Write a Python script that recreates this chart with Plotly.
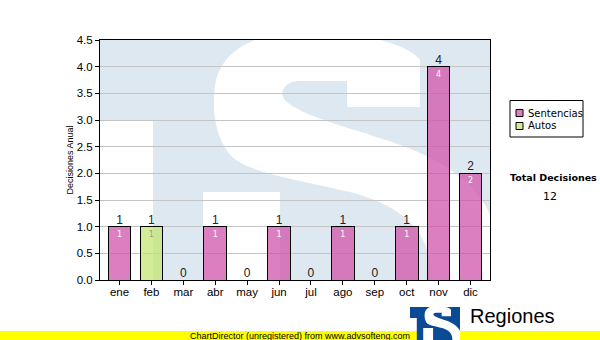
import base64
import plotly.graph_objects as go

# ---------------- data ----------------
months = ["ene", "feb", "mar", "abr", "may", "jun", "jul", "ago", "sep", "oct", "nov", "dic"]
sentencias = [1, 0, 0, 1, 0, 1, 0, 1, 0, 1, 4, 2]
autos = [0, 1, 0, 0, 0, 0, 0, 0, 0, 0, 0, 0]
series_names = ["Sentencias", "Autos"]
series_colors = ["rgba(206,78,168,0.72)", "rgba(196,228,108,0.72)"]
y_title = "Decisiones Anual"
total_title = "Total Decisiones"
footer_text = "ChartDirector (unregistered) from www.advsofteng.com"
brand_text = "Regiones"

totals = [s + a for s, a in zip(sentencias, autos)]
grand_total = sum(totals)

# ---------------- geometry of the canvas ----------------
W, H = 600, 340
L, R, T, B = 100, 110, 40, 60
PW, PH = W - L - R, H - T - B


def px(xabs):
    return (xabs - L) / PW


def py(yabs):
    return (H - B - yabs) / PH


def logo_svg(bg, fg, w, h):
    s_path = ("M 320,67 L 247,67 L 247,41 L 200,41 C 185,41 178,52 185,60 "
              "C 200,78 280,95 313,110 C 350,125 395,155 395,200 L 395,290 L 103,290 "
              "L 103,152 L 180,152 L 180,260 L 330,260 L 330,230 "
              "C 330,190 300,165 250,152 C 200,140 140,132 128,112 "
              "C 112,90 112,60 116,40 C 125,5 165,-8 200,-8 C 260,-10 310,5 320,20 Z")
    svg = (f'<svg xmlns="http://www.w3.org/2000/svg" width="{w}" height="{h}" '
           f'viewBox="0 0 390 240" preserveAspectRatio="none">'
           f'<path d="M0,0 H390 V240 H53 V80 H0 Z" fill="{bg}"/>'
           f'<path d="{s_path}" fill="{fg}"/></svg>')
    return "data:image/svg+xml;base64," + base64.b64encode(svg.encode()).decode()


fig = go.Figure()

fig.add_trace(go.Bar(
    x=months, y=[v if v else None for v in sentencias], name=series_names[0],
    marker=dict(color=series_colors[0], line=dict(color="black", width=1)),
    text=[str(v) if v else "" for v in sentencias],
    textposition="inside", insidetextanchor="end", textangle=0,
    insidetextfont=dict(family="DejaVu Sans", size=8, color="white"),
    showlegend=False,
))
fig.add_trace(go.Bar(
    x=months, y=[v if v else None for v in autos], name=series_names[1],
    marker=dict(color=series_colors[1], line=dict(color="black", width=1)),
    text=[str(v) if v else "" for v in autos],
    textposition="inside", insidetextanchor="end", textangle=0,
    insidetextfont=dict(family="DejaVu Sans", size=8, color="#9a9a90"),
    showlegend=False,
))
fig.add_trace(go.Scatter(
    x=months, y=totals, mode="text", text=[str(v) for v in totals],
    textposition="top center", showlegend=False, cliponaxis=False,
    textfont=dict(family="Liberation Sans", size=12, color="#222"),
    hoverinfo="skip",
))

# manual legend (box, swatches, labels)
shapes = [
    dict(type="rect", xref="paper", yref="paper", x0=px(0), x1=px(600),
         y0=py(340), y1=py(331), fillcolor="#ffff00", line=dict(width=0), layer="below"),
    dict(type="rect", xref="paper", yref="paper", x0=px(510), x1=px(583),
         y0=py(137), y1=py(100.5), fillcolor="white", line=dict(color="black", width=1)),
]
annotations = []
for i, (name, col) in enumerate(zip(series_names, series_colors)):
    yc = 113 + 13 * i
    shapes.append(dict(type="rect", xref="paper", yref="paper", x0=px(516), x1=px(523),
                       y0=py(yc + 3.5), y1=py(yc - 3.5), fillcolor=col,
                       line=dict(color="black", width=1)))
    annotations.append(dict(text=name, xref="paper", yref="paper", x=px(526), y=py(yc),
                            xanchor="left", yanchor="middle", showarrow=False,
                            font=dict(family="DejaVu Sans", size=10, color="black")))

annotations += [
    dict(text=f"<b>{total_title}</b>", xref="paper", yref="paper", x=px(553.5), y=py(177),
         xanchor="center", yanchor="middle", showarrow=False,
         font=dict(family="DejaVu Sans", size=9.5, color="black")),
    dict(text=str(grand_total), xref="paper", yref="paper", x=px(549.5), y=py(196),
         xanchor="center", yanchor="middle", showarrow=False,
         font=dict(family="DejaVu Sans", size=11, color="black")),
    dict(text=footer_text, xref="paper", yref="paper", x=px(300), y=py(335.5),
         xanchor="center", yanchor="middle", showarrow=False,
         font=dict(family="Liberation Sans", size=9, color="black")),
    dict(text=brand_text, xref="paper", yref="paper", x=px(468), y=py(316),
         xanchor="left", yanchor="middle", showarrow=False,
         font=dict(family="Liberation Sans", size=20, color="black")),
]

fig.update_layout(
    width=W, height=H, margin=dict(l=L, r=R, t=T, b=B, autoexpand=False),
    paper_bgcolor="white", plot_bgcolor="white",
    barmode="stack", bargap=0.29, showlegend=False,
    font=dict(family="Liberation Sans", size=11, color="black"),
    xaxis=dict(type="category", showline=True, linecolor="black", linewidth=1, mirror=True,
               ticks="outside", ticklen=4, tickcolor="black", showgrid=False,
               ticklabelstandoff=-3,
               tickfont=dict(family="Liberation Sans", size=11.5, color="black")),
    yaxis=dict(range=[0, 4.5], dtick=0.5, tickformat=".1f", showline=True, linecolor="black",
               linewidth=1, mirror=True, ticks="outside", ticklen=4, tickcolor="black",
               gridcolor="#c4c4c4", gridwidth=1, zeroline=False,
               tickfont=dict(family="Liberation Sans", size=11.5, color="black"),
               title=dict(text=y_title, standoff=1,
                          font=dict(family="Liberation Sans", size=9, color="black"))),
    images=[
        dict(source=logo_svg("#dee8f1", "white", PW, PH), xref="paper", yref="paper",
             x=0, y=1, sizex=1, sizey=1, sizing="stretch", xanchor="left", yanchor="top",
             layer="below"),
        dict(source=logo_svg("#0b4a94", "white", 50, 33), xref="paper", yref="paper",
             x=px(410), y=py(307), sizex=50 / PW, sizey=33 / PH, sizing="stretch",
             xanchor="left", yanchor="top", layer="above"),
    ],
    shapes=shapes,
    annotations=annotations,
)

fig.write_html("out.html")
